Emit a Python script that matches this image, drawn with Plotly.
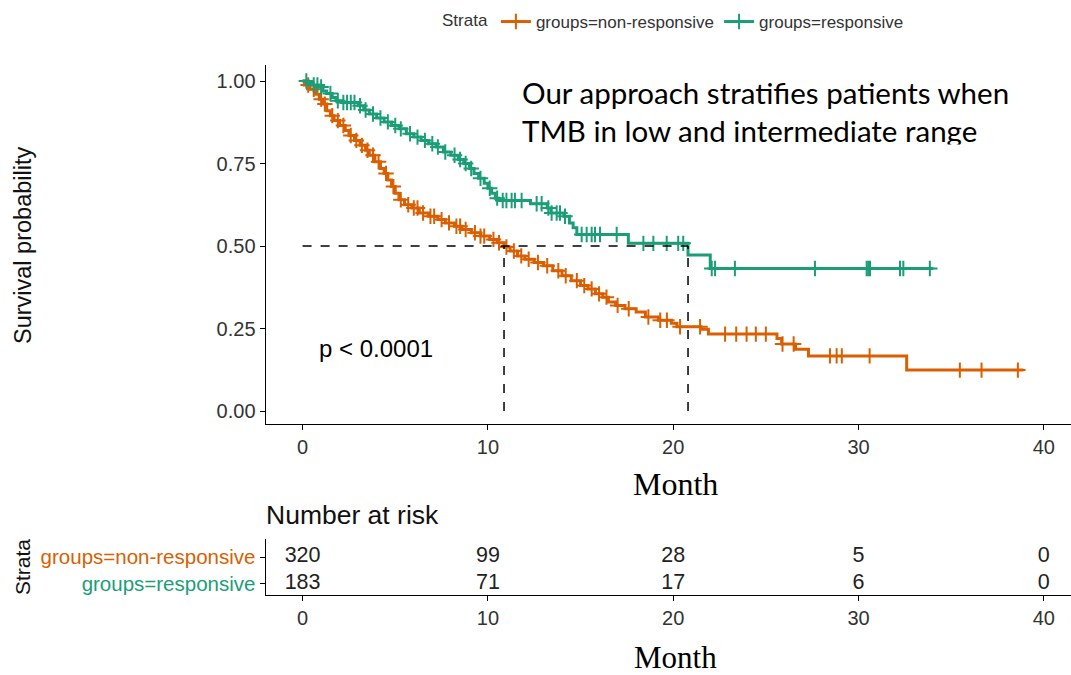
import numpy as np
import plotly.graph_objects as go

# ---------------- data ----------------
strata = ["groups=non-responsive", "groups=responsive"]

# Kaplan-Meier steps: non-responsive
nr_time = [0, 0.1, 0.4, 0.7, 0.9, 1.1, 1.3, 1.5, 1.7, 2.0, 2.3, 2.5, 2.8, 3.1, 3.4, 3.6, 3.9,
           4.2, 4.4, 4.6, 4.8, 5.0, 5.2, 5.5, 5.9, 6.3, 6.8, 7.3, 7.7, 8.2, 8.6, 9.1, 9.6,
           10.1, 10.5, 10.87, 11.2, 11.6, 12.0, 12.5, 13.0, 13.5, 14.0, 14.5, 15.0, 15.4,
           15.8, 16.2, 16.5, 16.9, 17.4, 18.0, 18.5, 19.2, 19.9, 20.2, 21.5, 21.9, 25.6,
           25.85, 26.6, 27.3, 32.6]
nr_surv = [1.0, 0.988, 0.975, 0.96, 0.945, 0.93, 0.91, 0.895, 0.88, 0.865, 0.85, 0.835, 0.82,
           0.805, 0.79, 0.775, 0.755, 0.735, 0.72, 0.70, 0.68, 0.66, 0.64, 0.625, 0.615, 0.60,
           0.59, 0.58, 0.57, 0.56, 0.55, 0.54, 0.53, 0.52, 0.51, 0.497, 0.485, 0.47, 0.46, 0.45,
           0.44, 0.425, 0.41, 0.395, 0.38, 0.37, 0.355, 0.345, 0.33, 0.32, 0.31, 0.30, 0.285,
           0.275, 0.266, 0.2555, 0.2475, 0.233, 0.2195, 0.203, 0.187, 0.167, 0.124]
nr_end = 38.9
nr_censor = [0.3, 0.6, 1.0, 1.2, 1.6, 1.9, 2.2, 2.6, 2.9, 3.2, 3.5, 3.8, 4.1, 4.5, 4.9, 5.3,
             5.7, 6.0, 6.2, 6.5, 6.9, 7.1, 7.5, 7.9, 8.3, 8.5, 8.8, 9.3, 9.6, 9.8, 10.3, 10.6,
             11.0, 11.4, 11.8, 12.2, 12.7, 13.2, 13.8, 14.2, 14.8, 15.2, 15.6, 16.0, 16.4,
             17.0, 17.6, 18.66, 19.3, 19.66, 20.37, 21.45, 22.8, 23.4, 23.96, 24.46, 25.0,
             25.9, 26.5, 28.46, 28.82, 29.1, 30.6, 35.47, 36.64, 38.6]

# Kaplan-Meier steps: responsive
r_time = [0, 0.3, 0.5, 0.9, 1.1, 1.3, 1.6, 1.8, 2.1, 3.0, 3.3, 3.6, 4.0, 4.4, 4.8, 5.2, 5.6,
          6.0, 6.4, 6.8, 7.2, 7.6, 8.0, 8.4, 8.7, 9.0, 9.25, 9.5, 9.8, 10.0, 10.2, 10.4,
          10.6, 12.3, 13.2, 13.4, 14.1, 14.4, 14.6, 14.8, 17.58, 20.8, 22.0]
r_surv = [1.0, 0.994, 0.988, 0.982, 0.97, 0.962, 0.95, 0.94, 0.935, 0.925, 0.912, 0.90, 0.888,
          0.876, 0.865, 0.855, 0.84, 0.83, 0.82, 0.81, 0.80, 0.785, 0.775, 0.762, 0.75, 0.735,
          0.72, 0.705, 0.69, 0.675, 0.66, 0.645, 0.638, 0.628, 0.615, 0.60, 0.59, 0.57, 0.555,
          0.535, 0.508, 0.473, 0.432]
r_end = 34.04
r_censor = [0.2, 0.6, 0.8, 1.0, 1.5, 1.9, 2.2, 2.4, 2.6, 2.8, 3.1, 3.4, 3.8, 4.2, 4.6, 5.0,
            5.3, 5.8, 6.2, 6.6, 7.0, 7.3, 7.7, 8.2, 8.5, 8.8, 9.1, 9.6, 10.1, 10.5, 10.8, 11.0,
            11.28, 11.46, 11.82, 12.63, 12.9, 13.26, 13.44, 13.71, 13.89, 14.16, 15.06, 15.33,
            15.6, 15.78, 16.05, 16.95, 18.39, 18.93, 19.65, 20.27, 20.54, 22.08, 22.26, 23.33,
            27.65, 30.44, 30.53, 30.62, 32.24, 32.42, 33.85]

risk_times = [0, 10, 20, 30, 40]
risk_nonresp = [320, 99, 28, 5, 0]
risk_resp = [183, 71, 17, 6, 0]
x_ticks = [0, 10, 20, 30, 40]
y_ticks = [0, 0.25, 0.5, 0.75, 1.0]

# ---------------- style ----------------
W, H = 1071, 675
ORANGE = "#D95F02"
GREEN = "#1B9E77"
TXT = "#333333"


def px(x):
    return x / W


def py(y):
    return 1 - y / H


def step_at(times, surv, t):
    idx = np.searchsorted(np.array(times), np.array(t), side="right") - 1
    return list(np.array(surv)[idx])


def median(times, surv):
    for t, s in zip(times, surv):
        if s <= 0.5:
            return t
    return None


fig = go.Figure()

series = [
    (strata[0], nr_time, nr_surv, nr_end, nr_censor, ORANGE),
    (strata[1], r_time, r_surv, r_end, r_censor, GREEN),
]
for name, tt, ss, end, cens, col in series:
    fig.add_trace(go.Scatter(
        x=tt + [end], y=ss + [ss[-1]], mode="lines", line=dict(color=col, width=3, shape="hv"),
        name=name, showlegend=False, hoverinfo="skip"))
    fig.add_trace(go.Scatter(
        x=cens, y=step_at(tt, ss, cens), mode="markers", name=name, showlegend=False,
        marker=dict(symbol="cross-thin", size=11, color=col, line=dict(color=col, width=2))))

# legend entries
for name, tt, ss, end, cens, col in series:
    fig.add_trace(go.Scatter(
        x=[None], y=[None], mode="lines+markers", name=name,
        line=dict(color=col, width=3),
        marker=dict(symbol="cross-thin", size=11, color=col, line=dict(color=col, width=2))))

# median dashed lines
m1 = median(nr_time, nr_surv)
m2 = median(r_time, r_surv)
dash = dict(color="black", width=1.5, dash="dash")
fig.add_trace(go.Scatter(x=[0, max(m1, m2)], y=[0.5, 0.5], mode="lines", line=dash,
                         showlegend=False, hoverinfo="skip"))
for m in (m1, m2):
    fig.add_trace(go.Scatter(x=[m, m], y=[0, 0.5], mode="lines", line=dash,
                             showlegend=False, hoverinfo="skip"))

# overlay text (as trace so it can be clipped by a shape)
ann_x = (522 - 302.6) / 18.53
fig.add_trace(go.Scatter(
    x=[ann_x, ann_x], y=[(411 - 97) / 330, (411 - 134.5) / 330], mode="text",
    text=["Our approach stratifies patients when", "TMB in low and intermediate range"],
    textposition="middle right", textfont=dict(family="Lato", size=29.5, color="black"),
    showlegend=False, hoverinfo="skip", cliponaxis=False))

# risk table
for vals, yv in ((risk_nonresp, 2), (risk_resp, 1)):
    fig.add_trace(go.Scatter(
        x=risk_times, y=[yv] * len(risk_times), mode="text", text=[str(v) for v in vals],
        textfont=dict(family="Liberation Sans", size=21.5, color="#222222"),
        xaxis="x2", yaxis="y2", showlegend=False, hoverinfo="skip", cliponaxis=False))

axis_common = dict(showline=True, linecolor="black", linewidth=1.3, ticks="outside",
                   ticklen=5, tickcolor="black", tickwidth=1.2, showgrid=False, zeroline=False,
                   automargin=False,
                   tickfont=dict(family="Liberation Sans", size=20, color=TXT))

xr = [(265.7 - 302.6) / 18.53, (W - 302.6) / 18.53]

fig.update_layout(
    width=W, height=H, margin=dict(l=0, r=0, t=0, b=0),
    paper_bgcolor="white", plot_bgcolor="white",
    font=dict(family="Liberation Sans", color=TXT),
    xaxis=dict(domain=[px(265.7), 1], range=xr, tickvals=x_ticks, anchor="y", **axis_common),
    yaxis=dict(domain=[py(424), py(65)], range=[-0.0394, 1.0485], tickvals=y_ticks,
               tickformat=".2f", anchor="x", **axis_common),
    xaxis2=dict(domain=[px(265.7), 1], range=xr, tickvals=x_ticks, anchor="y2", **axis_common),
    yaxis2=dict(domain=[py(595.3), py(539)], range=[0.58, 2.67], tickvals=[2, 1],
                ticktext=[f"<span style='color:{ORANGE}'>{strata[0]}</span>",
                          f"<span style='color:{GREEN}'>{strata[1]}</span>"],
                anchor="x2", **{**axis_common,
                                "tickfont": dict(family="Liberation Sans", size=20.5)}),
    legend=dict(orientation="h", x=px(440), y=py(4), xanchor="left", yanchor="top",
                title=dict(text="Strata", side="left", font=dict(size=17, color=TXT)),
                font=dict(size=17, color=TXT), bgcolor="rgba(0,0,0,0)", itemwidth=30),
    shapes=[dict(type="rect", xref="paper", yref="paper", layer="above",
                 x0=px(515), x1=px(1040), y0=py(153), y1=py(144.5),
                 fillcolor="white", line=dict(width=0))],
    annotations=[
        dict(text="Survival probability", x=px(23), y=py(246), xref="paper", yref="paper",
             xanchor="center", yanchor="middle",
             textangle=-90, showarrow=False, font=dict(size=23.5, color="#111")),
        dict(text="p < 0.0001", x=px(317), y=py(348), xref="paper", yref="paper",
             xanchor="left", yanchor="middle", showarrow=False,
             font=dict(size=24, color="black")),
        dict(text="Month", x=px(675), y=py(484), xref="paper", yref="paper", showarrow=False,
             xanchor="center", yanchor="middle",
             font=dict(family="Liberation Serif", size=32, color="black")),
        dict(text="Number at risk", x=px(264), y=py(515), xref="paper", yref="paper",
             xanchor="left", yanchor="middle", showarrow=False,
             font=dict(size=26.5, color="#111")),
        dict(text="Strata", x=px(22), y=py(567), xref="paper", yref="paper", textangle=-90,
             xanchor="center", yanchor="middle",
             showarrow=False, font=dict(size=21, color="#111")),
        dict(text="Month", x=px(675), y=py(657), xref="paper", yref="paper", showarrow=False,
             xanchor="center", yanchor="middle", borderpad=0,
             font=dict(family="Liberation Serif", size=31, color="black")),
    ],
)

fig.write_html("out.html", post_script="document.body.style.margin='0px';",
               config={"displayModeBar": False})
